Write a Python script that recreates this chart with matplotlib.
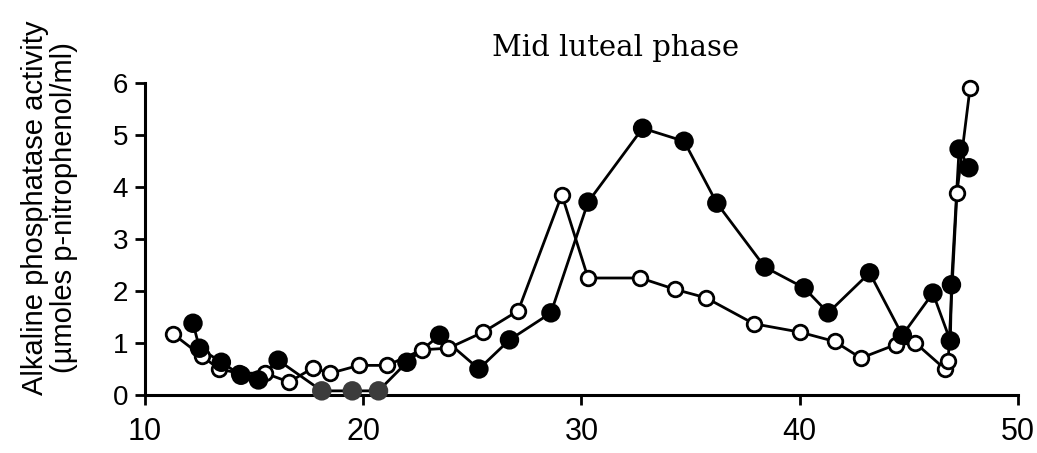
import matplotlib
matplotlib.use("Agg")
import matplotlib.pyplot as plt
from matplotlib import font_manager

# Filled-circle series
filled_x = [12.2, 12.5, 13.5, 14.4, 15.2, 16.1, 18.1, 19.5, 20.7, 22.0, 23.5, 25.3,
            26.7, 28.6, 30.3, 32.8, 34.7, 36.2, 38.4, 40.2, 41.3, 43.2, 44.7, 46.1,
            46.9, 46.95, 47.3, 47.75]
filled_y = [1.38, 0.9, 0.63, 0.38, 0.29, 0.67, 0.08, 0.08, 0.08, 0.63, 1.15, 0.5,
            1.06, 1.58, 3.71, 5.13, 4.88, 3.69, 2.46, 2.06, 1.58, 2.35, 1.15, 1.96,
            1.04, 2.12, 4.73, 4.37]

# Open-circle series
open_x = [11.3, 12.6, 13.4, 14.3, 15.5, 16.6, 17.7, 18.5, 19.8, 21.1, 22.7, 23.9,
          25.5, 27.1, 29.1, 30.3, 32.7, 34.3, 35.7, 37.9, 40.0, 41.6, 42.8, 44.4,
          45.3, 46.65, 46.8, 47.2, 47.8]
open_y = [1.17, 0.75, 0.5, 0.42, 0.42, 0.25, 0.52, 0.42, 0.57, 0.57, 0.87, 0.9,
          1.21, 1.62, 3.85, 2.25, 2.25, 2.03, 1.87, 1.37, 1.21, 1.03, 0.71, 0.97,
          1.0, 0.5, 0.65, 3.88, 5.9]

x_ticks = [10, 20, 30, 40, 50]
y_ticks = [0, 1, 2, 3, 4, 5, 6]
title = "Mid luteal phase"
ylabel = "Alkaline phosphatase activity\n(\u00b5moles p-nitrophenol/ml)"

# condensed font for x tick labels if available
try:
    font_manager.findfont(font_manager.FontProperties(family='Liberation Sans Narrow'),
                          fallback_to_default=False)
    xfont, xsize = 'Liberation Sans Narrow', 26
except Exception:
    xfont, xsize = 'Liberation Sans', 22

fig = plt.figure(figsize=(10.37, 4.53), dpi=100)
ax = fig.add_axes([0.1398, 0.128, 0.8419, 0.6888])

ax.plot(open_x, open_y, '-', color='black', lw=2.0, zorder=2)
ax.plot(filled_x, filled_y, '-', color='black', lw=2.0, zorder=2)
ax.plot(open_x, open_y, 'o', mfc='white', mec='black', mew=2.0, ms=10.5, zorder=3,
        clip_on=False)
fcols = ['#3c3c3c' if v < 0.2 else 'black' for v in filled_y]
ax.scatter(filled_x, filled_y, s=12.5 ** 2, c=fcols, edgecolors=fcols,
           linewidths=1.5, zorder=4, clip_on=False)

ax.set_xlim(10, 50)
ax.set_ylim(0, 6)
ax.set_xticks(x_ticks)
ax.set_yticks(y_ticks)
for s in ['top', 'right']:
    ax.spines[s].set_visible(False)
for s in ['left', 'bottom']:
    ax.spines[s].set_linewidth(2.2)
ax.tick_params(axis='both', width=2.0, length=7, direction='out')
ax.tick_params(axis='y', labelsize=20, pad=5)
ax.tick_params(axis='x', labelsize=xsize, pad=9)
for lab in ax.get_yticklabels():
    lab.set_family(['Liberation Sans', 'DejaVu Sans'])
for lab in ax.get_xticklabels():
    lab.set_family([xfont, 'Liberation Sans', 'DejaVu Sans'])

ax.set_ylabel(ylabel, fontsize=21, family=['Liberation Sans', 'DejaVu Sans'],
              linespacing=1.05)
ax.yaxis.set_label_coords(-0.077, 0.6)
fig.text(0.594, 0.895, title, fontsize=21, family=['DejaVu Serif'],
         ha='center', va='center')

fig.savefig("out.png", dpi=100)
